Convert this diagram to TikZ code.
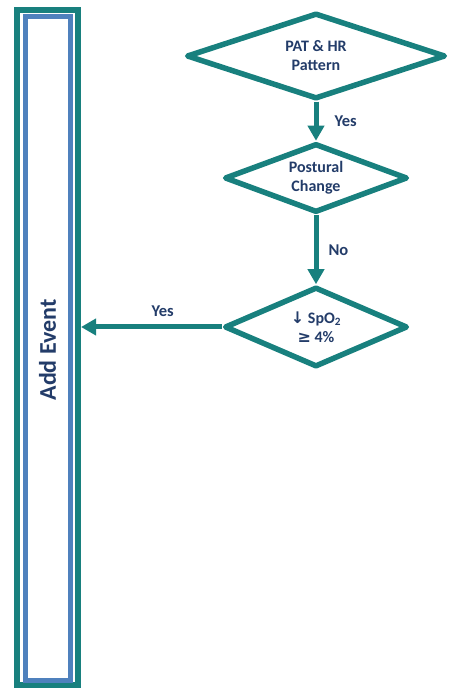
\documentclass[tikz,border=0pt]{standalone}
\usepackage{fontspec}
\setmainfont{Carlito}
\newfontfamily\arrfont{DejaVu Sans}
\usetikzlibrary{shapes.geometric,arrows.meta}
\definecolor{tealline}{RGB}{24,128,126}
\definecolor{framebl}{RGB}{79,129,189}
\definecolor{ink}{RGB}{35,60,105}

\begin{document}
\begin{tikzpicture}[x=1pt,y=1pt,
  q/.style={diamond,aspect=2.6,draw=tealline,line width=5.5pt,line join=round,inner sep=0pt,
    align=center,text=ink,font=\bfseries\fontsize{16}{19}\selectfont},
  box/.style={rectangle,draw=tealline,line width=6pt,inner sep=0pt},
  inbox/.style={rectangle,draw=framebl,line width=5pt,inner sep=0pt},
  e/.style={draw=tealline,line width=5pt,-{Triangle[width=16pt,length=15pt]}},
  lab/.style={text=ink,font=\bfseries\fontsize{16.5}{19}\selectfont,inner sep=1pt}]
  \useasboundingbox (0,0) rectangle (448,689);
  % side box
  \node[box,minimum width=61pt,minimum height=675pt] (ev) at (47.5,341.5) {};
  \node[inbox,minimum width=45pt,minimum height=664pt] (evin) at (47.5,340) {};
  \node[rotate=90,text=ink,font=\bfseries\fontsize{24}{28}\selectfont] (evtxt) at (47.5,339) {Add Event};
  % decisions
  \node[q,aspect=3,minimum width=259pt,minimum height=86pt] (pat) at (316,633) {PAT \& HR\\Pattern};
  \node[q,minimum width=183pt,minimum height=69pt] (post) at (316,511) {Postural\\Change};
  \node[q,aspect=2.3,minimum width=183pt,minimum height=80pt] (spo) at (316,362)
    {{\arrfont\bfseries ↓} SpO\textsubscript{2}\\{\arrfont\bfseries ≥} 4\%};
  % connectors
  \draw[e] (pat.south) -- node[lab,right=15pt] {Yes} (post.north);
  \draw[e] (post.south) -- node[lab,right=9pt] {No} (spo.north);
  \draw[e] (spo.west) -- node[lab,pos=0.42,above=7pt] {Yes} (spo.west -| ev.east);
\end{tikzpicture}
\end{document}
